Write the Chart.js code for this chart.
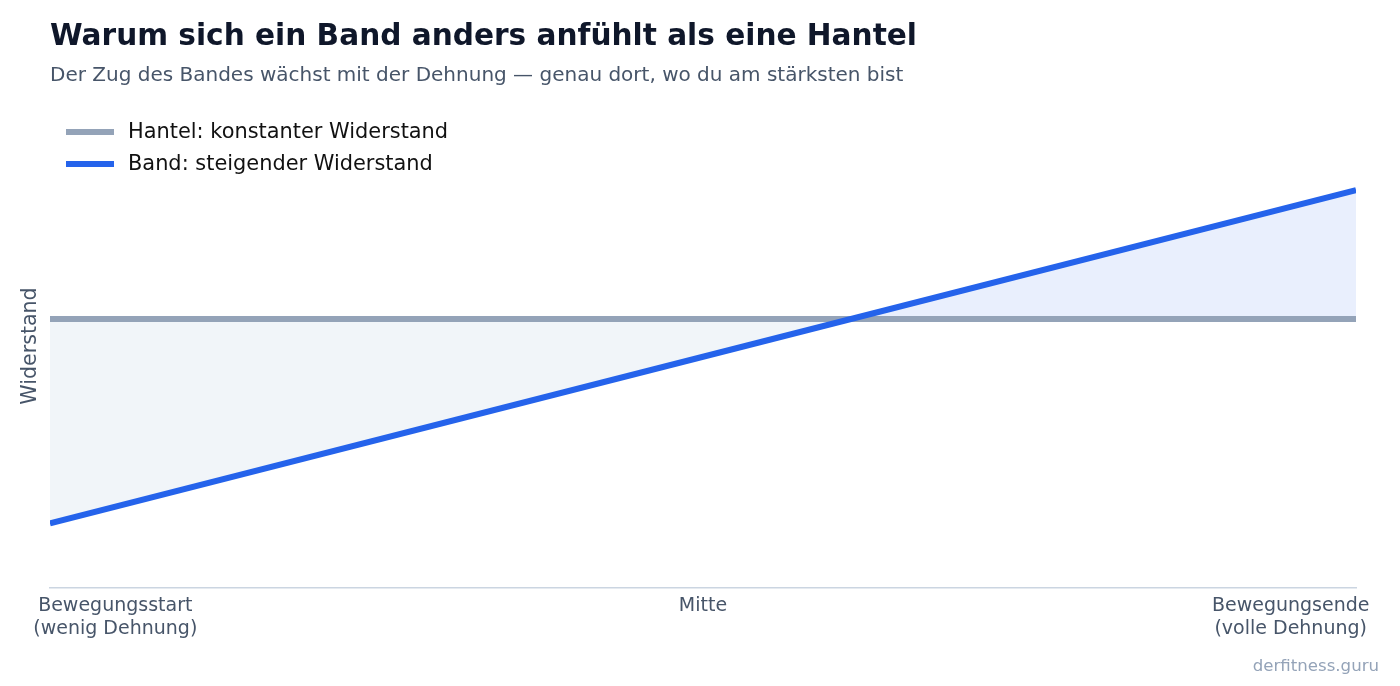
<!DOCTYPE html>
<html lang="de">
<head>
<meta charset="utf-8">
<title>Band vs. Hantel</title>
<script src="https://cdn.jsdelivr.net/npm/chart.js@4/dist/chart.umd.min.js"></script>
<style>
  html, body { margin: 0; padding: 0; background: #fff; }
  body { width: 1400px; height: 686px; position: relative; overflow: hidden;
         font-family: "DejaVu Sans", sans-serif; }
  #chart { position: absolute; left: 0; top: 0; }
  .txt { position: absolute; white-space: nowrap; line-height: normal; }
  #title { left: 50px; top: 17.5px; font-size: 29.6px; font-weight: bold; color: #0f172a; }
  #subtitle { left: 50px; top: 61.5px; font-size: 20px; color: #475569; }
  .legend-row { position: absolute; left: 66px; height: 24px; }
  .legend-row .swatch { position: absolute; left: 0; width: 48px; height: 6px; }
  .legend-row .label { position: absolute; left: 62px; font-size: 20.9px; color: #111; white-space: nowrap; line-height: normal; }
  #credit { right: 21px; top: 655.5px; font-size: 16.6px; color: #94a3b8; }
</style>
</head>
<body>
<canvas id="chart" width="1400" height="686"></canvas>
<div class="txt" id="title">Warum sich ein Band anders anfühlt als eine Hantel</div>
<div class="txt" id="subtitle">Der Zug des Bandes wächst mit der Dehnung — genau dort, wo du am stärksten bist</div>
<div id="legend"></div>
<div class="txt" id="credit">derfitness.guru</div>
<script>
// Bewegungsweg in Prozent (0 = Start, 100 = Ende)
const positions = [0, 50, 100];
const bandValues = [12, 43, 74];
const hantelValues = [50, 50, 50];

const tickPositions = [5, 50, 95];
const tickLabels = [
  ["Bewegungsstart", "(wenig Dehnung)"],
  ["Mitte"],
  ["Bewegungsende", "(volle Dehnung)"],
];

const seriesNames = ["Band: steigender Widerstand", "Hantel: konstanter Widerstand"];
const bandColor = "#2563eb";
const hantelColor = "#94a3b8";

function toPoints(values) {
  return positions.map((x, i) => ({ x: x, y: values[i] }));
}

// legend (hantel first, like the original)
const legendItems = [
  { name: seriesNames[1], color: hantelColor, top: 119 },
  { name: seriesNames[0], color: bandColor, top: 151 },
];
const legendEl = document.getElementById("legend");
legendItems.forEach((it) => {
  const row = document.createElement("div");
  row.className = "legend-row";
  row.style.top = it.top + "px";
  row.innerHTML = '<div class="swatch" style="top:9.5px;background:' + it.color + '"></div>' +
    '<div class="label">' + it.name + "</div>";
  legendEl.appendChild(row);
});

const ctx = document.getElementById("chart").getContext("2d");
const chart = new Chart(ctx, {
  type: "line",
  data: {
    datasets: [
      {
        label: seriesNames[0],
        data: toPoints(bandValues),
        borderColor: bandColor,
        borderWidth: 6,
        pointRadius: 0,
        tension: 0,
        fill: {
          target: 1,
          above: "rgba(37, 99, 235, 0.1)",
          below: "#f1f5f9",
        },
      },
      {
        label: seriesNames[1],
        data: toPoints(hantelValues),
        borderColor: hantelColor,
        borderWidth: 6,
        pointRadius: 0,
        tension: 0,
        fill: false,
      },
    ],
  },
  options: {
    responsive: false,
    animation: false,
    layout: { padding: { top: 104, right: 44, left: 0, bottom: 0 } },
    plugins: {
      legend: { display: false },
      tooltip: { enabled: false },
      filler: { drawTime: "beforeDatasetsDraw" },
    },
    scales: {
      x: {
        type: "linear",
        min: 0,
        max: 100,
        afterBuildTicks: (scale) => {
          scale.ticks = tickPositions.map((v) => ({ value: v }));
        },
        afterFit: (scale) => { scale.height = 98; },
        grid: { display: false },
        border: { display: true, color: "#cbd5e1", width: 1.5 },
        ticks: {
          autoSkip: false,
          maxRotation: 0,
          padding: -2,
          color: "#475569",
          font: { family: "DejaVu Sans", size: 19, lineHeight: 1.22 },
          callback: (value, index) => tickLabels[index],
        },
      },
      y: {
        min: 0,
        max: 90,
        afterFit: (scale) => { scale.width = 50; },
        grid: { display: false },
        border: { display: false },
        ticks: { display: false },
        title: {
          display: true,
          text: "Widerstand",
          color: "#475569",
          padding: { top: 18, bottom: 0 },
          font: { family: "DejaVu Sans", size: 20.6 },
        },
      },
    },
  },
});
</script>
</body>
</html>
